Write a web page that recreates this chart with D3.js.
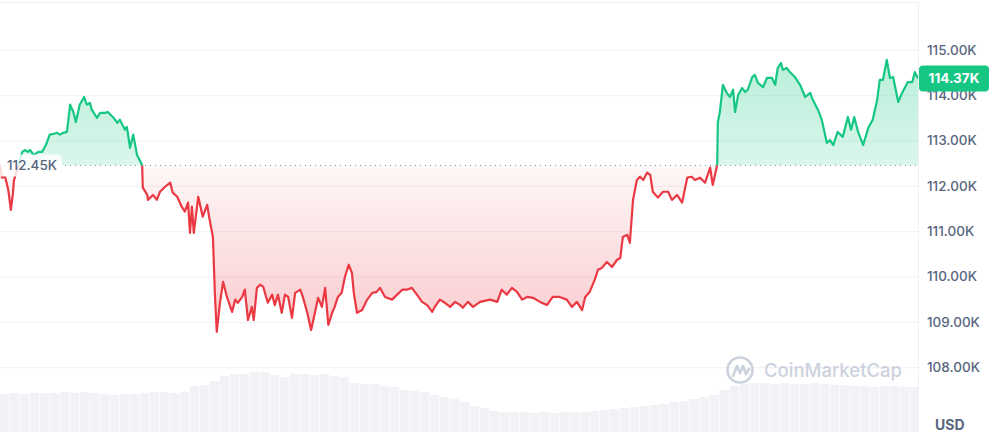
<!DOCTYPE html>
<html>
<head>
<meta charset="utf-8">
<script src="https://cdn.jsdelivr.net/npm/d3@7/dist/d3.min.js"></script>
<style>
  html, body { margin: 0; padding: 0; background: #fff; }
  svg { display: block; font-family: Inter, "Noto Sans", sans-serif; }
</style>
</head>
<body>
<svg id="chart" width="993" height="440"></svg>
<script>
// ---- data (time in minutes over 24h, price in thousands USD) ----
const times = [0,3,8,13,17,20,22,27,31,35,39,44,47,53,60,66,72,78,85,89,94,99,105,110,115,119,125,132,136,141,144,152,157,165,169,177,184,188,196,199,204,209,215,223,224,231,232,240,246,251,259,267,271,278,285,290,295,298,301,304,311,318,325,328,334,337,340,345,350,356,364,369,373,380,384,389,395,398,403,408,413,420,427,431,436,442,447,452,458,463,471,475,482,488,494,499,505,510,515,521,525,530,536,541,547,552,555,560,568,576,584,591,596,604,615,623,631,638,646,654,662,670,678,682,690,698,706,714,722,726,734,742,753,769,780,787,795,803,811,819,827,836,847,858,867,878,889,897,905,913,918,925,933,938,944,952,960,968,973,977,984,988,993,999,1004,1009,1015,1020,1024,1032,1040,1048,1054,1062,1070,1078,1085,1090,1098,1106,1114,1118,1125,1126,1129,1134,1140,1145,1150,1153,1158,1164,1169,1173,1180,1184,1189,1197,1203,1211,1216,1220,1225,1228,1234,1239,1247,1255,1263,1271,1275,1283,1289,1297,1302,1307,1314,1322,1330,1335,1340,1346,1354,1362,1369,1376,1380,1385,1391,1396,1401,1409,1415,1420,1424,1431,1435,1440];
const prices = [112.46,112.18,112.20,111.91,111.47,111.80,112.13,112.35,112.57,112.75,112.79,112.75,112.79,112.68,112.75,112.75,112.90,113.13,113.15,113.17,113.13,113.17,113.19,113.79,113.63,113.41,113.79,113.96,113.79,113.83,113.68,113.50,113.61,113.61,113.63,113.52,113.39,113.46,113.24,113.30,112.84,113.13,112.68,112.46,111.96,111.80,111.69,111.80,111.69,111.87,111.98,112.07,111.85,111.76,111.54,111.43,111.63,110.96,111.54,110.96,111.76,111.32,111.58,111.32,110.87,109.64,108.78,109.42,109.88,109.55,109.22,109.49,109.42,109.55,109.71,109.04,109.33,109.04,109.75,109.82,109.77,109.42,109.60,109.37,109.60,109.20,109.60,109.55,109.09,109.64,109.71,109.55,109.20,108.82,109.20,109.53,109.33,109.75,108.93,109.20,109.33,109.55,109.64,109.99,110.26,110.08,109.64,109.20,109.26,109.49,109.64,109.66,109.75,109.55,109.49,109.60,109.71,109.71,109.75,109.60,109.44,109.37,109.22,109.33,109.49,109.42,109.33,109.44,109.37,109.31,109.44,109.33,109.44,109.49,109.44,109.71,109.60,109.75,109.66,109.49,109.55,109.53,109.44,109.37,109.55,109.55,109.49,109.33,109.44,109.26,109.55,109.66,109.93,110.15,110.19,110.32,110.21,110.37,110.41,110.87,110.92,110.74,111.69,112.13,112.20,112.13,112.29,112.24,111.87,111.74,111.87,111.87,111.69,111.80,111.63,112.18,112.20,112.13,112.18,112.07,112.40,112.02,112.46,113.41,113.61,114.23,114.05,113.96,114.12,113.63,114.01,114.16,114.07,114.12,114.40,114.45,114.27,114.18,114.38,114.38,114.23,114.60,114.71,114.56,114.60,114.51,114.40,114.23,113.96,114.05,113.90,113.68,113.46,112.95,113.01,112.90,113.19,113.08,113.52,113.24,113.52,113.19,112.90,113.28,113.46,113.90,114.34,114.34,114.78,114.38,114.40,113.85,114.05,114.18,114.29,114.29,114.51,114.37];
const baselinePrice = 112.45;
const lastPrice = 114.37;
const tickValues = [108,109,110,111,112,113,114,115];
const tickLabels = ["108.00K","109.00K","110.00K","111.00K","112.00K","113.00K","114.00K","115.00K"];
// volume profile (billions USD, one value per segment of the day)
const volumes = [38,39,38,39,39,39,40,39,40,39,38,37,38,38,39,40,40,39,40,46,47,51,56,58,58,60,60,57,55,58,58,57,58,56,55,49,48,48,46,45,42,41,40,37,35,33,30,26,24,21,20,20,20,19,20,19,20,20,20,21,22,23,24,25,26,27,28,30,31,33,35,37,42,46,48,49,49,48,49,48,48,49,48,47,47,46,46,45,46,46,45,45];
const unitLabel = "USD";
const brand = "CoinMarketCap";

// ---- layout ----
const W = 993, H = 440;
const plotRight = 918;
const svg = d3.select("#chart");
const GREEN = "#16c784", RED = "#ea3943";

const x = d3.scaleLinear().domain([0, 1440]).range([0, plotRight]);
const y = d3.scaleLinear().domain([106.57, 116.10]).range([432, 0]);
const yv = d3.scaleLinear().domain([0, 60]).range([432, 372]);
const xb = d3.scaleBand().domain(d3.range(volumes.length)).range([0, plotRight + 1]).paddingInner(0.06);

const data = times.map((t, i) => ({ t, p: prices[i] }));
const baseY = y(baselinePrice);

// defs
const defs = svg.append("defs");
const gg = defs.append("linearGradient").attr("id", "gGreen")
  .attr("gradientUnits", "userSpaceOnUse").attr("x1", 0).attr("x2", 0)
  .attr("y1", y(114.8)).attr("y2", baseY);
gg.append("stop").attr("offset", 0).attr("stop-color", GREEN).attr("stop-opacity", 0.30);
gg.append("stop").attr("offset", 1).attr("stop-color", GREEN).attr("stop-opacity", 0.16);
const gr = defs.append("linearGradient").attr("id", "gRed")
  .attr("gradientUnits", "userSpaceOnUse").attr("x1", 0).attr("x2", 0)
  .attr("y1", baseY).attr("y2", y(108.8));
gr.append("stop").attr("offset", 0).attr("stop-color", RED).attr("stop-opacity", 0.04);
gr.append("stop").attr("offset", 1).attr("stop-color", RED).attr("stop-opacity", 0.26);

defs.append("clipPath").attr("id", "clipAbove").append("rect")
  .attr("x", 0).attr("y", 0).attr("width", plotRight).attr("height", baseY);
defs.append("clipPath").attr("id", "clipBelow").append("rect")
  .attr("x", 0).attr("y", baseY).attr("width", plotRight).attr("height", H - baseY);

// frame lines
svg.append("line").attr("x1", 0).attr("x2", plotRight + 1).attr("y1", 2.5).attr("y2", 2.5)
  .attr("stroke", "#eceff3").attr("stroke-width", 1);
svg.append("line").attr("x1", plotRight + 0.5).attr("x2", plotRight + 0.5).attr("y1", 2).attr("y2", 432)
  .attr("stroke", "#eff2f5").attr("stroke-width", 1);

// grid
const grid = svg.append("g").attr("class", "grid")
  .call(d3.axisLeft(y).tickValues(tickValues).tickSize(-plotRight).tickFormat(""));
grid.select(".domain").remove();
grid.selectAll("line").attr("stroke", "#eff2f5").attr("stroke-width", 1);

// volume bars
svg.append("g").selectAll("rect").data(volumes).join("rect")
  .attr("x", (d, i) => xb(i)).attr("width", xb.bandwidth())
  .attr("y", d => yv(d)).attr("height", d => yv(0) - yv(d))
  .attr("fill", "#f0f2f6");

// areas
const area = d3.area().x(d => x(d.t)).y0(baseY).y1(d => y(d.p));
const line = d3.line().x(d => x(d.t)).y(d => y(d.p));

svg.append("path").datum(data).attr("d", area).attr("fill", "url(#gGreen)").attr("clip-path", "url(#clipAbove)");
svg.append("path").datum(data).attr("d", area).attr("fill", "url(#gRed)").attr("clip-path", "url(#clipBelow)");

// baseline dotted
svg.append("line").attr("x1", 0).attr("x2", plotRight).attr("y1", baseY).attr("y2", baseY)
  .attr("stroke", "#8a94a6").attr("stroke-width", 1).attr("stroke-dasharray", "1,4");

// lines
svg.append("path").datum(data).attr("d", line).attr("fill", "none").attr("stroke", GREEN)
  .attr("stroke-width", 2.2).attr("stroke-linejoin", "round").attr("clip-path", "url(#clipAbove)");
svg.append("path").datum(data).attr("d", line).attr("fill", "none").attr("stroke", RED)
  .attr("stroke-width", 2.2).attr("stroke-linejoin", "round").attr("clip-path", "url(#clipBelow)");

// baseline label
const bl = svg.append("g").attr("transform", `translate(0,${baseY})`);
bl.append("rect").attr("x", -4).attr("y", -11).attr("width", 66).attr("height", 22).attr("rx", 5)
  .attr("fill", "#ffffff").attr("fill-opacity", 0.82);
bl.append("text").attr("x", 7).attr("y", 0).attr("dy", "0.36em")
  .attr("fill", "#58667e").attr("font-size", 13.5).attr("font-weight", 500).text(baselinePrice.toFixed(2) + "K");

// right axis
const ax = svg.append("g").attr("transform", `translate(${plotRight + 9},0)`)
  .call(d3.axisRight(y).tickValues(tickValues).tickSize(0).tickPadding(0)
    .tickFormat((d, i) => tickLabels[i]));
ax.select(".domain").remove();
ax.selectAll("text").attr("fill", "#58667e").attr("font-size", 13.5).attr("font-weight", 500)
  .attr("font-family", "Inter, 'Noto Sans', sans-serif");

// last price badge
const lb = svg.append("g").attr("transform", `translate(${plotRight + 1},${y(lastPrice)})`);
lb.append("rect").attr("x", 0).attr("y", -13).attr("width", 70).attr("height", 26).attr("rx", 4).attr("fill", GREEN);
lb.append("text").attr("x", 35).attr("y", 0).attr("dy", "0.36em").attr("text-anchor", "middle")
  .attr("fill", "#fff").attr("font-size", 13.5).attr("font-weight", 700).text(lastPrice.toFixed(2) + "K");

// unit label
svg.append("text").attr("x", 935).attr("y", 425).attr("dy", "0.36em")
  .attr("fill", "#58667e").attr("font-size", 14).attr("font-weight", 700).text(unitLabel);

// watermark
const wm = svg.append("g").attr("transform", "translate(740,370)").attr("opacity", 0.9);
wm.append("circle").attr("r", 12.5).attr("fill", "none").attr("stroke", "#c7ceda").attr("stroke-width", 2.6);
wm.append("path").attr("d", "M-7,6 L-3,-4 L0,3 L3,-4 L6,4 L9,-1")
  .attr("fill", "none").attr("stroke", "#c7ceda").attr("stroke-width", 2.6).attr("stroke-linejoin", "round").attr("stroke-linecap", "round");
wm.append("text").attr("x", 24).attr("y", 0).attr("dy", "0.36em")
  .attr("fill", "#c7ceda").attr("font-size", 18.5).attr("font-weight", 500).text(brand);
</script>
</body>
</html>
